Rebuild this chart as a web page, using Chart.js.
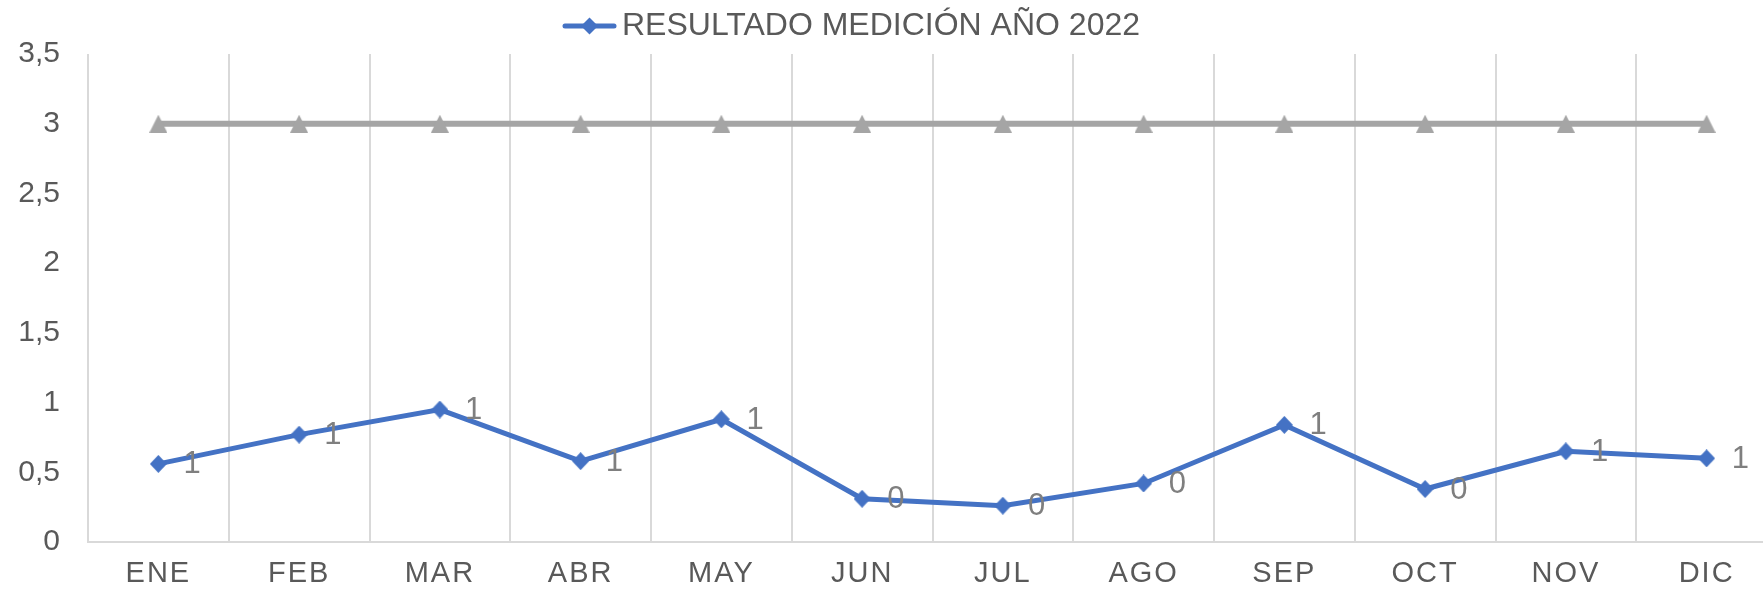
<!DOCTYPE html>
<html>
<head>
    <title>Resultado medición 2022</title>
    <script src="https://cdn.jsdelivr.net/npm/chart.js"></script>
    <style>
        html, body { margin: 0; padding: 0; overflow: hidden; background: #fff; }
        #wrap { width: 1800px; height: 591px; }
    </style>
</head>
<body>
    <div id="wrap"><canvas id="chart"></canvas></div>

    <script>
        // datos
        var meses = ["ENE", "FEB", "MAR", "ABR", "MAY", "JUN", "JUL", "AGO", "SEP", "OCT", "NOV", "DIC"];
        var resultado2022 = [0.56, 0.77, 0.95, 0.58, 0.88, 0.31, 0.26, 0.42, 0.84, 0.38, 0.65, 0.60];
        var metaValores = [3, 3, 3, 3, 3, 3, 3, 3, 3, 3, 3, 3];
        var nombreSerie = "RESULTADO MEDICIÓN AÑO 2022";
        var nombreMeta = "META";

        var azul = "#4472C4";
        var gris = "#A5A5A5";
        var textoGris = "#595959";
        var fuente = "'Liberation Sans', Arial, sans-serif";

        // marcadores tipo Excel
        function rombo(c, cx, cy, w, h) {
            c.beginPath();
            c.moveTo(cx, cy - h / 2);
            c.lineTo(cx + w / 2, cy);
            c.lineTo(cx, cy + h / 2);
            c.lineTo(cx - w / 2, cy);
            c.closePath();
            c.fill();
        }

        var marcaRombo = document.createElement("canvas");
        marcaRombo.width = 17;
        marcaRombo.height = 18;
        (function () {
            var c = marcaRombo.getContext("2d");
            c.fillStyle = azul;
            rombo(c, 8.5, 9, 17, 18);
        })();

        var marcaTriangulo = document.createElement("canvas");
        marcaTriangulo.width = 18;
        marcaTriangulo.height = 18;
        (function () {
            var c = marcaTriangulo.getContext("2d");
            c.fillStyle = gris;
            c.beginPath();
            c.moveTo(9, 0);
            c.lineTo(18, 18);
            c.lineTo(0, 18);
            c.closePath();
            c.fill();
        })();

        // icono de la leyenda: línea con rombo
        var iconoLeyenda = document.createElement("canvas");
        iconoLeyenda.width = 55;
        iconoLeyenda.height = 18;
        (function () {
            var c = iconoLeyenda.getContext("2d");
            c.strokeStyle = azul;
            c.lineWidth = 5;
            c.lineCap = "round";
            c.beginPath();
            c.moveTo(3, 9);
            c.lineTo(52, 9);
            c.stroke();
            c.fillStyle = azul;
            rombo(c, 27.5, 9, 17, 17);
        })();

        // etiquetas de datos (redondeadas como en Excel)
        var etiquetasDatos = {
            id: "etiquetasDatos",
            afterDatasetsDraw: function (chart) {
                var ctx = chart.ctx;
                var meta = chart.getDatasetMeta(0);
                ctx.save();
                ctx.font = "31px " + fuente;
                ctx.fillStyle = "#7F7F7F";
                ctx.textAlign = "left";
                ctx.textBaseline = "middle";
                meta.data.forEach(function (pt, i) {
                    ctx.fillText(String(Math.round(resultado2022[i])), pt.x + 25, pt.y + 1);
                });
                ctx.restore();
            }
        };

        // espacio bajo la leyenda, su posición y el espaciado de las etiquetas del eje X
        var ajusteLeyenda = {
            id: "ajusteLeyenda",
            beforeInit: function (chart) {
                var fitOriginal = chart.legend.fit;
                chart.legend.fit = function () {
                    fitOriginal.bind(chart.legend)();
                    this.height += 2;
                };
            },
            afterLayout: function (chart) {
                chart.legend.left -= 32;
                chart.legend.right -= 32;
            },
            afterUpdate: function (chart) {
                var x = chart.scales.x;
                if (x && !x._espaciado) {
                    var dibujar = x.drawLabels;
                    x.drawLabels = function (area) {
                        this.ctx.save();
                        this.ctx.letterSpacing = "2px";
                        dibujar.call(this, area);
                        this.ctx.restore();
                    };
                    x._espaciado = true;
                }
            }
        };

        var chartConfig = {
            type: "line",
            data: {
                labels: meses,
                datasets: [{
                    label: nombreSerie,
                    data: resultado2022,
                    borderColor: azul,
                    backgroundColor: azul,
                    borderWidth: 5,
                    pointStyle: marcaRombo,
                    pointRadius: 9,
                    tension: 0
                }, {
                    label: nombreMeta,
                    data: metaValores,
                    borderColor: gris,
                    backgroundColor: gris,
                    borderWidth: 6,
                    pointStyle: marcaTriangulo,
                    pointRadius: 9,
                    tension: 0
                }]
            },
            options: {
                responsive: true,
                maintainAspectRatio: false,
                animation: false,
                layout: {
                    padding: { left: 0, right: 23, top: 0, bottom: 0 }
                },
                plugins: {
                    tooltip: { enabled: false },
                    legend: {
                        position: "top",
                        labels: {
                            usePointStyle: true,
                            pointStyleWidth: 33,
                            padding: 10,
                            color: textoGris,
                            font: { family: fuente, size: 32 },
                            generateLabels: function () {
                                return [{
                                    text: nombreSerie,
                                    pointStyle: iconoLeyenda,
                                    fillStyle: azul,
                                    strokeStyle: azul,
                                    lineWidth: 0,
                                    fontColor: textoGris,
                                    hidden: false,
                                    datasetIndex: 0
                                }];
                            }
                        }
                    }
                },
                scales: {
                    x: {
                        offset: true,
                        grid: {
                            display: true,
                            offset: true,
                            color: "#D9D9D9",
                            lineWidth: 2,
                            drawTicks: false
                        },
                        border: { display: true, color: "#D9D9D9", width: 2 },
                        ticks: {
                            color: textoGris,
                            padding: 15,
                            font: { family: fuente, size: 29 }
                        },
                        afterFit: function (s) {
                            s.height = 49;
                            s.paddingLeft = 0;
                            s.paddingRight = 0;
                        }
                    },
                    y: {
                        min: 0,
                        max: 3.5,
                        grid: { display: false, drawTicks: false },
                        border: { display: false },
                        ticks: {
                            stepSize: 0.5,
                            color: textoGris,
                            padding: 28,
                            font: { family: fuente, size: 30 },
                            callback: function (v) { return String(v).replace(".", ","); }
                        },
                        afterFit: function (s) {
                            s.width = 88;
                            s.paddingTop = 0;
                            s.paddingBottom = 0;
                        }
                    }
                }
            },
            plugins: [etiquetasDatos, ajusteLeyenda]
        };

        var ctx = document.getElementById("chart").getContext("2d");
        var chart = new Chart(ctx, chartConfig);
    </script>
</body>
</html>
